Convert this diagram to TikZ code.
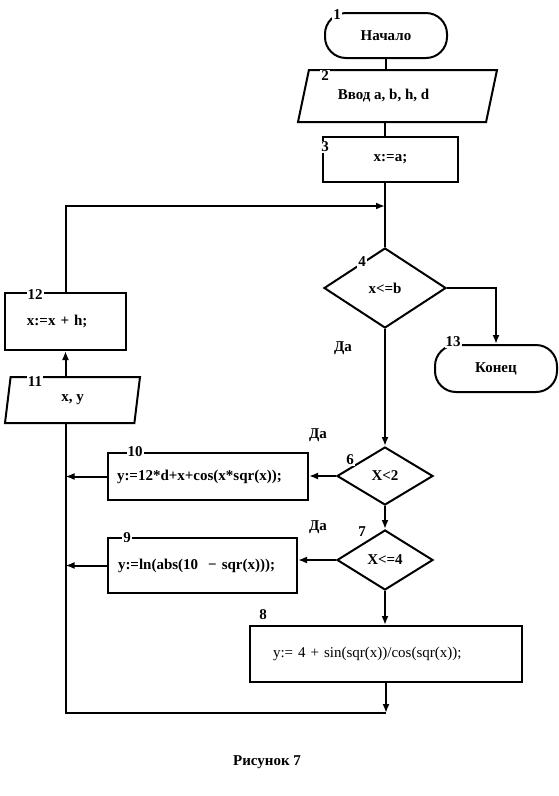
\documentclass[tikz,border=0pt]{standalone}
\usepackage{fontspec}
\setmainfont{Liberation Serif}
\usetikzlibrary{shapes.geometric,arrows.meta,calc}

\begin{document}
\begin{tikzpicture}[x=1pt,y=-1pt,
    every node/.style={font=\fontsize{15}{17}\selectfont\bfseries},
    flow/.style={line width=2pt},
    arr/.style={line width=2pt,-{Latex[length=9pt,width=7pt]}},
    termbox/.style={draw,line width=2pt,rectangle,rounded corners=21pt,inner sep=0pt},
    procbox/.style={draw,line width=2pt,rectangle,inner sep=0pt},
    iobox/.style={draw,line width=2pt,trapezium,trapezium stretches body,inner sep=0pt},
    testbox/.style={draw,line width=2pt,diamond,inner sep=0pt},
    num/.style={fill=white,inner sep=1pt}]
    \useasboundingbox (0,0) rectangle (559,796);
    % Blocks
    \node[termbox,minimum width=122pt,minimum height=45pt] (start) at (386,35.5) {Начало};
    \node[iobox,trapezium left angle=50,trapezium right angle=130,
        minimum width=199pt,minimum height=52pt] (input) at (397.5,96) {\hspace*{-28pt}Ввод a, b, h, d};
    \node[procbox,minimum width=135pt,minimum height=45pt] (init) at (390.5,159.5) {x:=a;};
    \node[testbox,minimum width=122pt,minimum height=80pt] (cond) at (385,288) {x<=b};
    \node[termbox,minimum width=122pt,minimum height=47pt] (stop) at (496,368.5) {Конец};
    \node[testbox,minimum width=96pt,minimum height=58pt] (lt) at (385,476) {X<2};
    \node[procbox,minimum width=200pt,minimum height=47pt,text width=182pt,align=left]
        (ya) at (208,476.5) {y:=12*d+x+cos(x*sqr(x));};
    \node[testbox,minimum width=96pt,minimum height=60pt] (le) at (385,560) {X<=4};
    \node[procbox,minimum width=189pt,minimum height=55pt,text width=169pt,align=left]
        (yb) at (202.5,565.5) {y:=ln(abs(10 \ − sqr(x)));};
    \node[procbox,minimum width=272pt,minimum height=56pt,text width=226pt,align=left,
        font=\fontsize{15}{17}\selectfont] (yc) at (386,654) {y:= 4 + sin(sqr(x))/cos(sqr(x));};
    \node[procbox,minimum width=121pt,minimum height=57pt,text width=77pt,align=left]
        (inc) at (65.5,321.5) {x:=x + h;};
    \node[iobox,trapezium left angle=61,trapezium right angle=119,
        minimum width=135pt,minimum height=46pt] (output) at (72.5,400) {x, y};
    % Coordinates
    \coordinate (join) at ($(cond.north)+(0,-41)$);
    \coordinate (low) at ($(yc.south)+(0,30)$);
    % Connectors
    \draw[flow] (start.south) -- (start.south |- input.north);
    \draw[flow] (cond.north |- input.south) -- (cond.north |- init.north);
    \draw[flow] (cond.north |- init.south) -- (cond.north);
    \draw[arr] (inc.north) |- (join);
    \draw[arr] (cond.east) -| (stop.north);
    \draw[arr] (cond.south) -- (lt.north);
    \draw[arr] (lt.west) -- (lt.west -| ya.east);
    \draw[arr] (ya.west) -- (ya.west -| inc.south);
    \draw[arr] (lt.south) -- (le.north);
    \draw[arr] (le.west) -- (le.west -| yb.east);
    \draw[arr] (yb.west) -- (yb.west -| inc.south);
    \draw[arr] (le.south) -- (le.south |- yc.north);
    \draw[arr] (yc.south) -- (low);
    \draw[flow] (low) -| (inc.south |- output.south);
    \draw[arr] (inc.south |- output.north) -- (inc.south);
    % Numbers
    \node[num] (n1) at (337,15) {1};
    \node[num] (n2) at (325,76) {2};
    \node[num] (n3) at (325,147) {3};
    \node[num] (n4) at (362,262) {4};
    \node[num] (n13) at (453,342) {13};
    \node[num] (n12) at (35,295) {12};
    \node[num] (n11) at (35,382) {11};
    \node[num] (n10) at (135,452) {10};
    \node[num] (n9) at (127,538) {9};
    \node[num] (n6) at (350,460) {6};
    \node[num] (n7) at (362,532) {7};
    \node[num] (n8) at (263,615) {8};
    % Labels
    \node (yes1) at (343,348) {Да};
    \node (yes2) at (318,435) {Да};
    \node (yes3) at (318,527) {Да};
    \node (caption) at (267,762) {Рисунок 7};
\end{tikzpicture}
\end{document}
